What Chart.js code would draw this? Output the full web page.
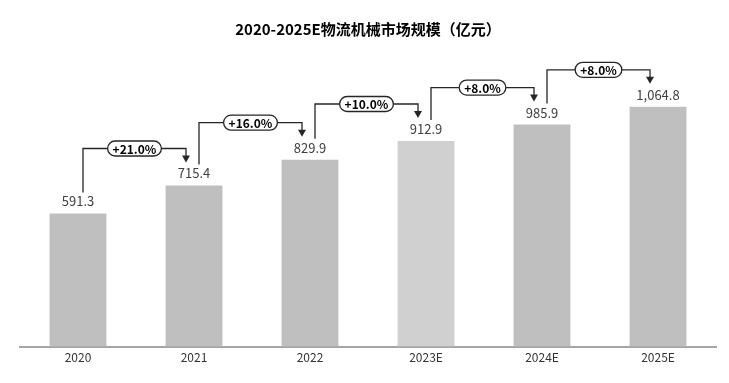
<!DOCTYPE html>
<html><head><meta charset="utf-8">
<script src="https://cdn.jsdelivr.net/npm/chart.js@4/dist/chart.umd.min.js"></script>
<style>html,body{margin:0;padding:0;background:#fff}#wrap{width:729px;height:383px;position:relative}</style>
</head><body><div id="wrap"><canvas id="c" width="729" height="383"></canvas></div>
<script>
const categories = ["2020", "2021", "2022", "2023E", "2024E", "2025E"];
const marketSize = [591.3, 715.4, 829.9, 912.9, 985.9, 1064.8];
const growthLabels = ["+21.0%", "+16.0%", "+10.0%", "+8.0%", "+8.0%"];
const barColors = ["#bfbfbf", "#bfbfbf", "#bfbfbf", "#d0d0d0", "#bfbfbf", "#bfbfbf"];

const FONT = "'Noto Sans CJK SC', 'Noto Sans', sans-serif";

const labelPlugin = {
  id: 'labels',
  afterDatasetsDraw(chart) {
    const ctx = chart.ctx;
    const meta = chart.getDatasetMeta(0);
    ctx.save();
    ctx.font = "13px " + FONT;
    ctx.fillStyle = "#404040";
    ctx.textAlign = "center";
    ctx.textBaseline = "middle";
    meta.data.forEach((bar, i) => {
      const txt = marketSize[i].toLocaleString('en-US', {minimumFractionDigits: 1, maximumFractionDigits: 1});
      ctx.fillText(txt, bar.x, bar.y - 12);
    });
    ctx.strokeStyle = "#262626";
    ctx.fillStyle = "#262626";
    ctx.lineWidth = 1.3;
    for (let i = 0; i < growthLabels.length; i++) {
      const a = meta.data[i], b = meta.data[i + 1];
      const x1 = a.x + 5, x2 = b.x - 8;
      const yStart = a.y - 21;
      const yH = b.y - 37;
      const yTip = b.y - 23;
      ctx.beginPath();
      ctx.moveTo(x1, yStart);
      ctx.lineTo(x1, yH);
      ctx.lineTo(x2, yH);
      ctx.lineTo(x2, yTip - 6);
      ctx.stroke();
      ctx.beginPath();
      ctx.moveTo(x2 - 4, yTip - 7);
      ctx.lineTo(x2 + 4, yTip - 7);
      ctx.lineTo(x2, yTip);
      ctx.closePath();
      ctx.fill();
      const cx = (x1 + x2) / 2;
      ctx.font = "bold 12px " + FONT;
      const w = ctx.measureText(growthLabels[i]).width + 10;
      const h = 15;
      ctx.beginPath();
      ctx.roundRect(cx - w / 2, yH - h / 2, w, h, h / 2);
      ctx.fillStyle = "#ffffff";
      ctx.fill();
      ctx.stroke();
      ctx.fillStyle = "#000000";
      ctx.textAlign = "center";
      ctx.textBaseline = "middle";
      ctx.fillText(growthLabels[i], cx, yH + 0.5);
      ctx.fillStyle = "#262626";
    }
    ctx.restore();
  }
};

new Chart(document.getElementById('c'), {
  type: 'bar',
  data: {
    labels: categories,
    datasets: [{
      data: marketSize,
      backgroundColor: barColors,
      barPercentage: 0.7,
      categoryPercentage: 0.7
    }]
  },
  options: {
    responsive: false,
    animation: false,
    layout: { padding: { left: 20, right: 13, top: 0, bottom: 14 } },
    plugins: {
      legend: { display: false },
      tooltip: { enabled: false },
      title: {
        display: true,
        text: "2020-2025E物流机械市场规模（亿元）",
        color: "#000",
        font: { family: FONT, size: 15, weight: 'bold' },
        padding: { top: 20, bottom: 12 }
      }
    },
    scales: {
      y: { display: false, min: 0, max: 1317 },
      x: {
        grid: { display: false, drawTicks: false },
        border: { display: true, color: "#a6a6a6", width: 2 },
        ticks: { color: "#333", font: { family: FONT, size: 12 }, padding: 4 }
      }
    }
  },
  plugins: [labelPlugin]
});
</script></body></html>
